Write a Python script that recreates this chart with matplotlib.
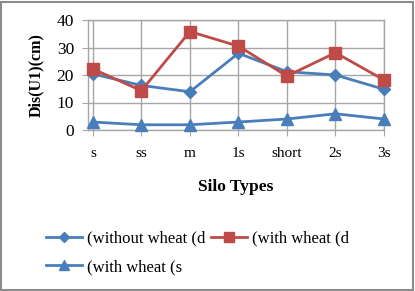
import matplotlib
matplotlib.use("Agg")
import matplotlib.pyplot as plt
from matplotlib.patches import Rectangle
from matplotlib.lines import Line2D

categories = ["s", "ss", "m", "1s", "short", "2s", "3s"]
without_wheat_d = [20.4, 16.2, 13.9, 27.9, 21.2, 20.0, 14.8]
with_wheat_d = [22.2, 14.3, 35.8, 30.5, 19.6, 28.1, 18.2]
with_wheat_s = [2.9, 1.9, 1.9, 2.9, 4.0, 5.9, 4.0]
labels = ["(without wheat (d", "(with wheat (d", "(with wheat (s"]
yticks = [0, 10, 20, 30, 40]

plt.rcParams['font.family'] = ['Liberation Serif', 'DejaVu Serif']

fig = plt.figure(figsize=(4.15, 2.91), dpi=100)
W, H = 415, 291
ax = fig.add_axes([88 / W, 1 - 130 / H, (384 - 88) / W, (130 - 20) / H])

blue = "#4A7EBB"
red = "#BE4B48"
x = list(range(len(categories)))
l1, = ax.plot(x, without_wheat_d, color=blue, lw=2, marker="D", ms=6.5, clip_on=False, zorder=3)
l2, = ax.plot(x, with_wheat_d, color=red, lw=2, marker="s", ms=9, clip_on=False, zorder=4)
l3, = ax.plot(x, with_wheat_s, color=blue, lw=2, marker="^", ms=9, clip_on=False, zorder=3)

ax.set_xlim(-0.1, 6)
ax.set_ylim(0, 40)
ax.set_yticks(yticks)
ax.set_xticks(x)
ax.set_xticklabels(categories, fontsize=11)
ax.grid(True, color="#A6A6A6", lw=1)
ax.set_axisbelow(True)
for s in ax.spines.values():
    s.set_color("#A6A6A6")
    s.set_linewidth(1)
ax.tick_params(axis="both", colors="#A6A6A6", labelcolor="black", length=4)
ax.tick_params(axis="y", labelsize=12.5, pad=6)
ax.tick_params(axis="x", pad=8)
ax.set_ylabel("Dis(U1)(cm)", fontsize=11.5, fontweight="bold", labelpad=9)
ax.set_xlabel("Silo Types", fontsize=12.5, fontweight="bold", labelpad=14)

handles = [
    Line2D([], [], color=blue, lw=2, marker="D", ms=5),
    Line2D([], [], color=blue, lw=2, marker="^", ms=7),
    Line2D([], [], color=red, lw=2, marker="s", ms=7),
]
leg_labels = [labels[0], labels[2], labels[1]]
fig.legend(handles, leg_labels, loc="upper left", bbox_to_anchor=(39 / W, 1 - 224 / H),
           ncol=2, frameon=False, fontsize=12, handlelength=2.2, handletextpad=0.3,
           columnspacing=0.3, labelspacing=0.75, borderaxespad=0)

fig.patches.append(Rectangle((1 / W, 1 / H), 1 - 3 / W, 1 - 3 / H, transform=fig.transFigure,
                             fill=False, edgecolor="#8C8C8C", lw=1.5))

fig.savefig("out.png", dpi=100)
